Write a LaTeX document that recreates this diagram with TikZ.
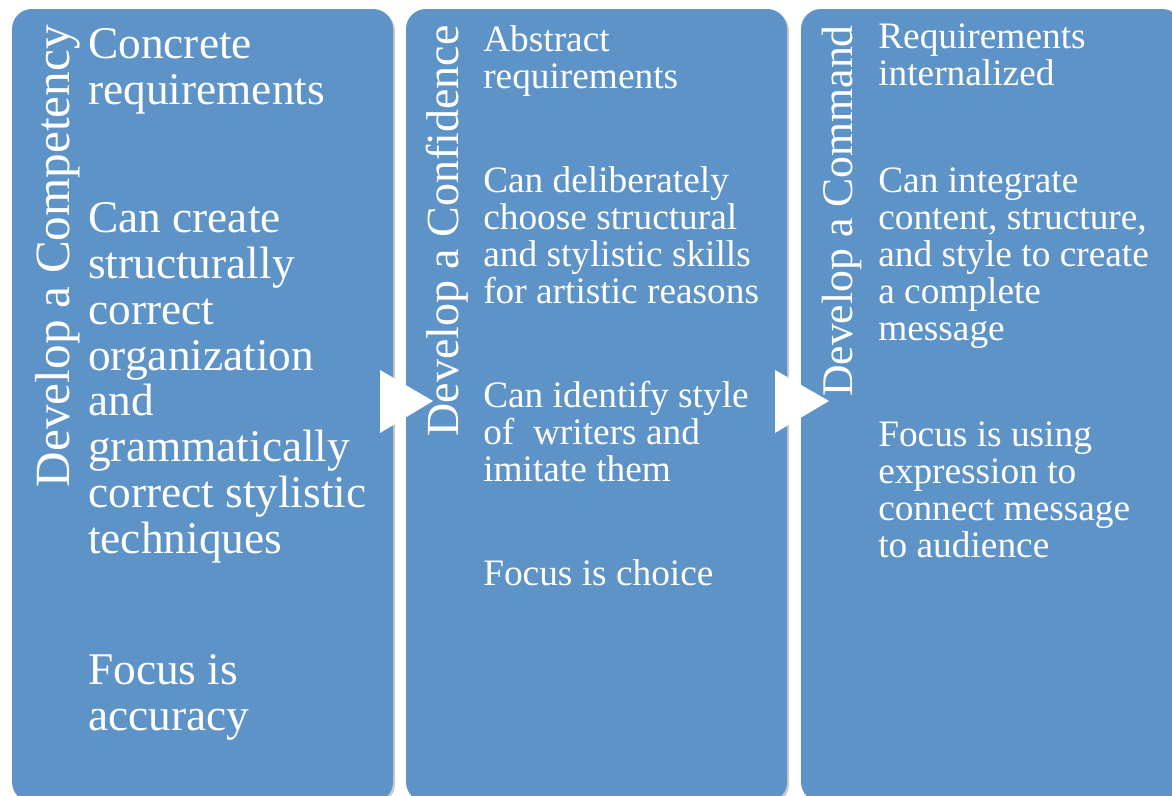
\documentclass[tikz,border=0pt]{standalone}
\usepackage{fontspec}
\setmainfont{Liberation Serif}
\usetikzlibrary{shadows}
\definecolor{panelblue}{RGB}{94,147,199}
\tikzset{
  panel/.style={fill=panelblue, rounded corners=15pt,
    drop shadow={shadow xshift=1.5pt, shadow yshift=-1.5pt, opacity=0.35, fill=black!60}},
  chev/.style={fill=white},
  vtitle/.style={text=white, inner sep=0pt, rotate=90, anchor=base east},
  bodyA/.style={text=white, inner sep=0pt, align=left, anchor=base west,
    font=\fontsize{34}{34.3}\selectfont},
  bodyB/.style={text=white, inner sep=0pt, align=left, anchor=base west,
    font=\fontsize{28}{27.6}\selectfont},
}
\begin{document}
\begin{tikzpicture}[x=0.75pt, y=-0.75pt]
\useasboundingbox (0,0) rectangle (1172,796);
\fill[white] (0,0) rectangle (1172,796);
% panels
\path[panel] (12,9) rectangle (393,802);
\path[panel] (406,9) rectangle (787,802);
\path[panel] (801,9) rectangle (1182,802);
% arrows
\fill[chev] (380,370) -- (433,401) -- (380,433) -- cycle;
\fill[chev] (775,370) -- (829,401) -- (775,433) -- cycle;
% titles
\node[vtitle, font=\fontsize{36.9}{40}\selectfont] (t1) at (69,25) {Develop a Competency};
\node[vtitle, font=\fontsize{34.5}{38}\selectfont] (t2) at (458,25) {Develop a Confidence};
\node[vtitle, font=\fontsize{32.8}{36}\selectfont] (t3) at (852,25) {Develop a Command};
% panel 1 (anchors at baseline of last line)
\node[bodyA] (a1) at (88,104) {Concrete\\requirements};
\node[bodyA] (a2) at (88,553) {Can create\\structurally\\correct\\organization\\and\\grammatically\\correct stylistic\\techniques};
\node[bodyA] (a3) at (88,730) {Focus is\\accuracy};
% panel 2
\node[bodyB] (b1) at (483,88) {Abstract\\requirements};
\node[bodyB] (b2) at (483,303) {Can deliberately\\choose structural\\and stylistic skills\\for artistic reasons};
\node[bodyB] (b3) at (483,481) {Can identify style\\of~ writers and\\imitate them};
\node[bodyB] (b4) at (483,585) {Focus is choice};
% panel 3
\node[bodyB] (c1) at (878,85) {Requirements\\internalized};
\node[bodyB] (c2) at (878,340) {Can integrate\\content, structure,\\and style to create\\a complete\\message};
\node[bodyB] (c3) at (878,557) {Focus is using\\expression to\\connect message\\to audience};
\end{tikzpicture}
\end{document}
